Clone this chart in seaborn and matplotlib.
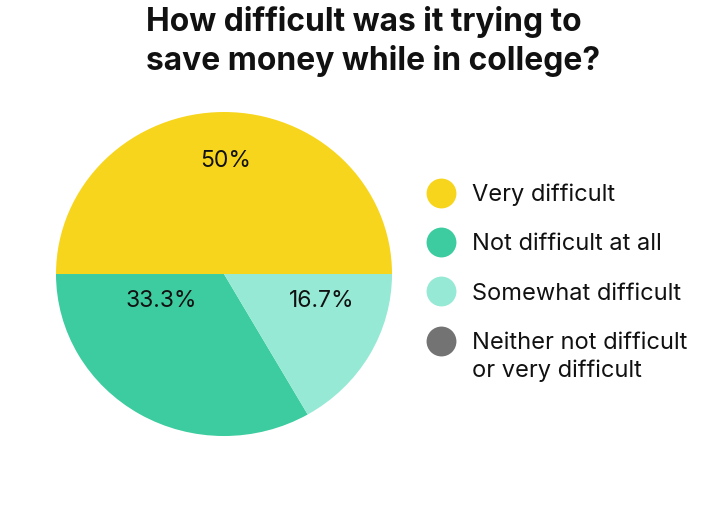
import matplotlib
matplotlib.use("Agg")
import numpy as np
import matplotlib.pyplot as plt
from matplotlib.lines import Line2D
import seaborn as sns

# survey answers
categories = ["Very difficult", "Not difficult at all", "Somewhat difficult",
              "Neither not difficult\nor very difficult"]
shares = [50.0, 33.3, 16.7, 0.0]
colors = ["#F7D51D", "#3CCC9F", "#96E9D4", "#737373"]

title = "How difficult was it trying to\nsave money while in college?"

# where each percentage sits, in pie-radius units
label_pos = [(0.01, 0.70), (-0.375, -0.167), (0.583, -0.167)]

sns.set_theme(style="white")
plt.rcParams['font.family'] = ['Inter', 'DejaVu Sans']

fig = plt.figure(figsize=(7.16, 5.05), dpi=100)
ax = fig.add_axes([0.0782, 0.1366, 0.4693, 0.6416])

ax.pie(shares, colors=colors, startangle=0, counterclock=True,
       wedgeprops=dict(linewidth=0))
ax.set_aspect("auto")
ax.set_xlim(-1, 1)
ax.set_ylim(-1, 1)
ax.axis("off")

for (x, y), v in zip(label_pos, shares):
    ax.text(x, y, f"{v:g}%", ha="center", va="center", fontsize=16.5,
            color="#111111")

handles = [Line2D([], [], marker="o", linestyle="", markersize=21.5,
                  markerfacecolor=c, markeredgewidth=0) for c in colors]
leg = fig.legend(handles, categories, loc="upper left",
                 bbox_to_anchor=(426.8 / 716, 0.636),
                 frameon=False, fontsize=17, borderpad=0, borderaxespad=0,
                 handlelength=1.2, handletextpad=0.71, labelspacing=1.15)
for t in leg.get_texts():
    t.set_color("#111111")
leg.get_texts()[-1].set_linespacing(1.32)

# two-line entry: keep its dot level with the first line
last = leg.legend_handles[-1]
last.set_ydata(np.asarray(last.get_ydata()) + 11.5)

fig.suptitle(title, x=146 / 716, y=0.988, ha="left", va="top", fontsize=22.9,
             fontweight="bold", linespacing=1.28, color="#111111",
             multialignment="left")

fig.savefig("out.png", dpi=100)
plt.close(fig)
